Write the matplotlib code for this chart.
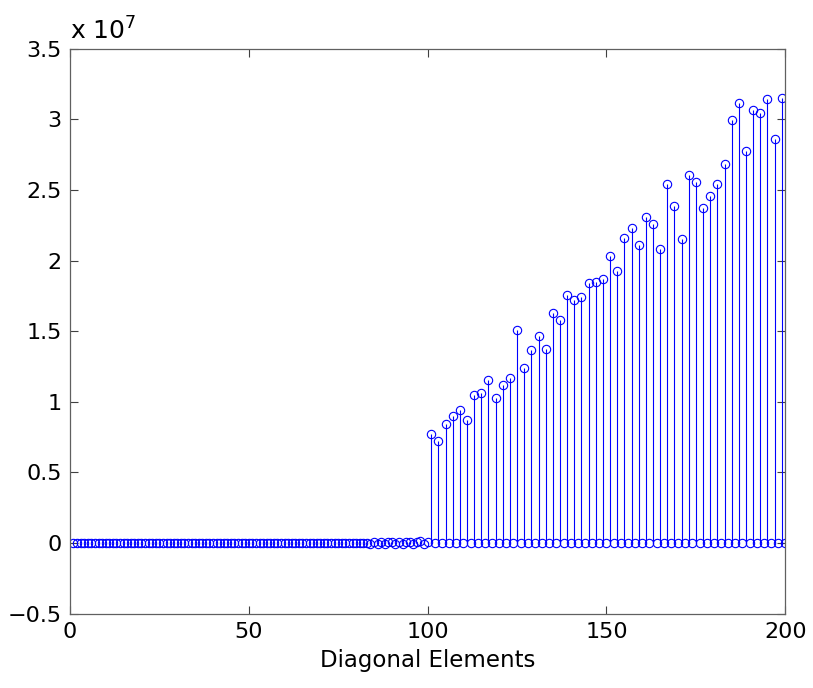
import matplotlib.pyplot as plt
import numpy as np
from matplotlib.ticker import FuncFormatter

# diagonal index 1..200
n_elements = 200

# peaks at odd indices 101, 103, ..., 199 (units of 1e7)
peak_values = [0.77, 0.725, 0.845, 0.90, 0.945, 0.875, 1.05, 1.06, 1.155, 1.03,
               1.12, 1.17, 1.51, 1.24, 1.365, 1.47, 1.375, 1.63, 1.58, 1.76,
               1.72, 1.74, 1.845, 1.85, 1.87, 2.03, 1.93, 2.16, 2.23, 2.11,
               2.31, 2.26, 2.08, 2.54, 2.385, 2.155, 2.61, 2.56, 2.37, 2.455,
               2.545, 2.685, 2.995, 3.12, 2.78, 3.065, 3.045, 3.145, 2.865, 3.15]

# small wobble for indices 83..100 (units of 1e7)
small_values = [0.004, -0.003, 0.006, -0.004, 0.007, -0.005, 0.006, 0.009, -0.006,
                0.010, -0.005, 0.008, 0.011, -0.007, 0.006, 0.012, -0.008, 0.007]

x = np.arange(1, n_elements + 1)
y = np.zeros(n_elements)
y[82:100] = small_values
y[100::2] = peak_values
y = y * 1e7

fig = plt.figure(figsize=(8.13, 6.88), dpi=100)
ax = fig.add_axes([0.086, 0.108, 0.880, 0.821])

markerline, stemlines, baseline = ax.stem(x, y, linefmt='b-', markerfmt='bo', basefmt=' ')
markerline.set_markerfacecolor('none')
markerline.set_markersize(6)
markerline.set_markeredgewidth(0.8)
stemlines.set_linewidth(0.8)

ax.set_xlim(0, 200)
ax.set_ylim(-0.5e7, 3.5e7)
ax.set_xticks([0, 50, 100, 150, 200])
ax.set_yticks(np.arange(-0.5, 3.51, 0.5) * 1e7)
ax.yaxis.set_major_formatter(FuncFormatter(lambda v, p: f'{v / 1e7:g}'.replace('-', '\u2212')))

font = 'DejaVu Sans'
for lab in ax.get_xticklabels() + ax.get_yticklabels():
    lab.set_fontfamily(font)
    lab.set_fontsize(16)

ax.tick_params(direction='in', length=6, width=0.8, top=True, right=True, pad=6, color='#404040')
for s in ax.spines.values():
    s.set_color('#606060')
    s.set_linewidth(0.9)

ax.text(0.0, 1.008, 'x 10$^{7}$', transform=ax.transAxes, fontsize=18,
        family=font, ha='left', va='bottom')

ax.set_xlabel('Diagonal Elements', fontsize=16.5, family=font, labelpad=5)

fig.savefig('out.png', dpi=100)
